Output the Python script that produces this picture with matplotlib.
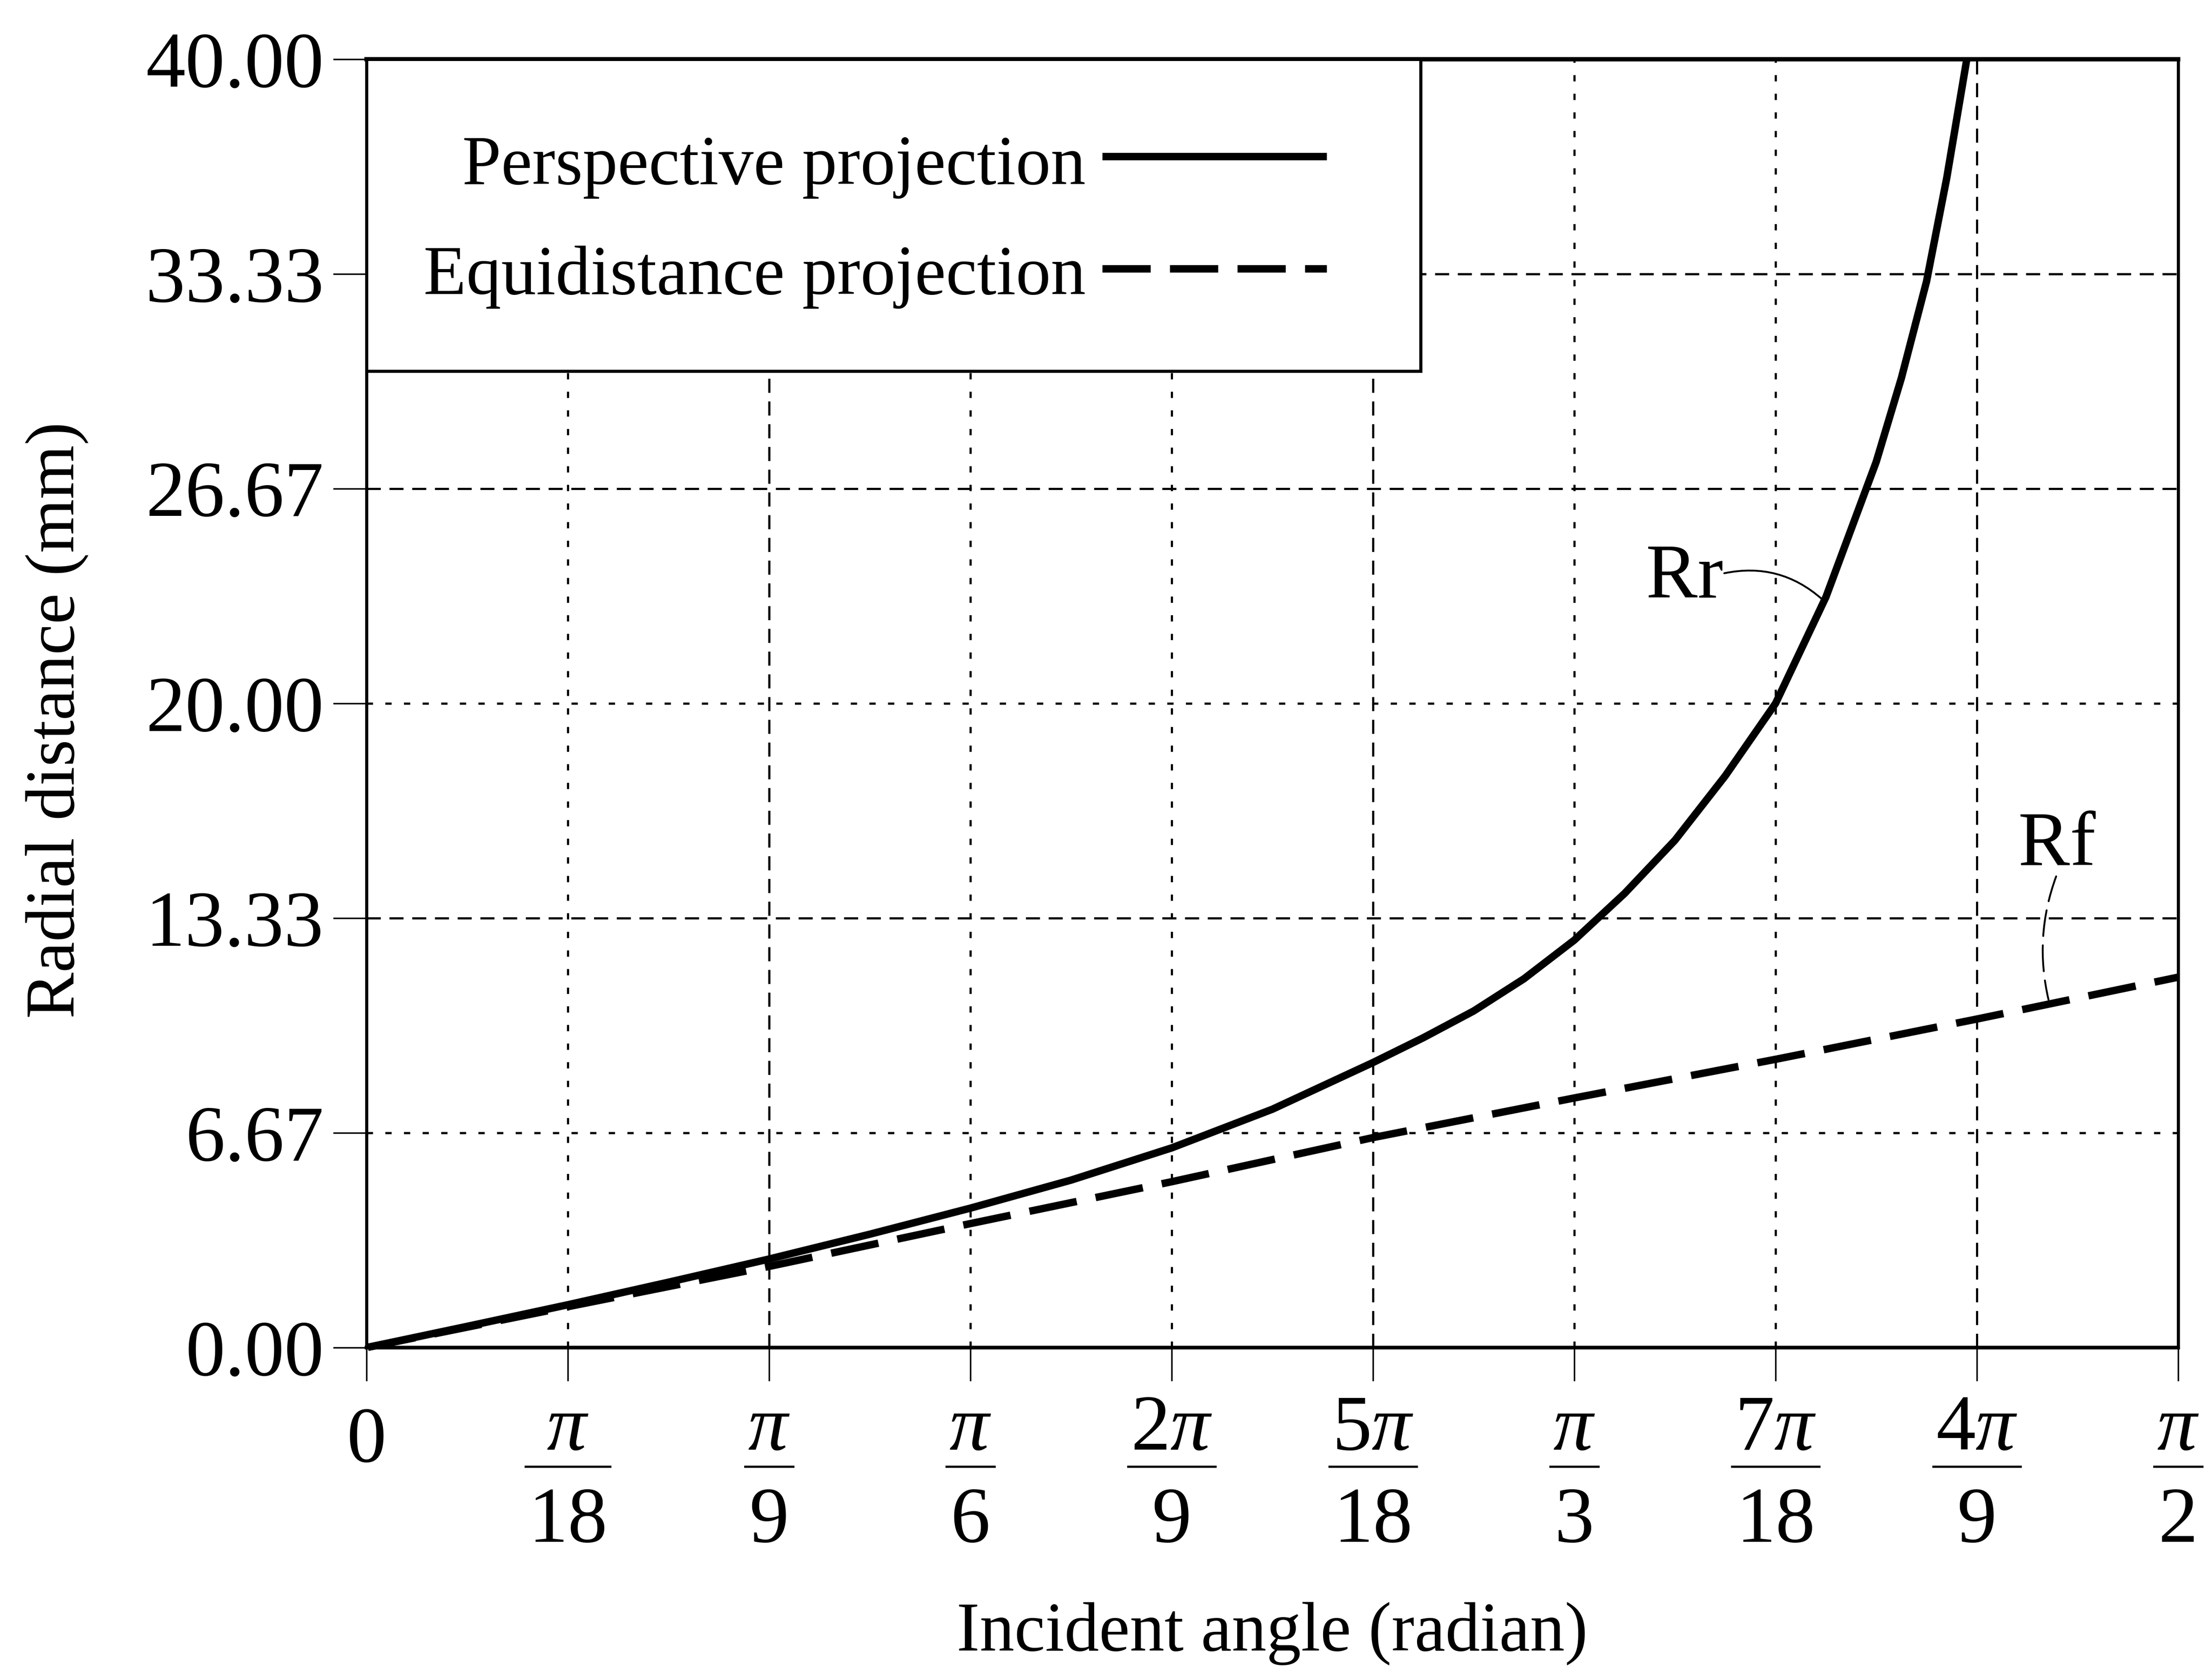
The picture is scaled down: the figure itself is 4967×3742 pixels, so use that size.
import numpy as np
import matplotlib
matplotlib.use('Agg')
import matplotlib.pyplot as plt
from matplotlib.patches import Rectangle
from matplotlib.transforms import blended_transform_factory

plt.rcParams['font.family'] = ['Liberation Serif', 'DejaVu Serif']
plt.rcParams['mathtext.fontset'] = 'custom'
plt.rcParams['mathtext.rm'] = 'Liberation Serif'
plt.rcParams['mathtext.it'] = 'Liberation Serif:italic'

# ---- data (angles in degrees, radial distance in mm) ----
rr_deg = [0, 5, 10, 15, 20, 25, 30, 35, 40, 45, 50, 52.5, 55, 57.5, 60, 62.5, 65, 67.5,
          70, 72.5, 75, 76.25, 77.5, 78.5, 79.5]
rr_mm = [0, 0.66, 1.33, 2.03, 2.75, 3.52, 4.33, 5.20, 6.20, 7.40, 8.85, 9.62, 10.45, 11.45,
         12.65, 14.1, 15.75, 17.75, 20.0, 23.3, 27.5, 30.1, 33.1, 36.3, 40.0]

rf_deg = [0, 10, 20, 30, 40, 50, 60, 70, 80, 90]
rf_mm = [0, 1.27, 2.52, 3.85, 5.15, 6.52, 7.75, 8.95, 10.2, 11.5]

xtick_deg = [0, 10, 20, 30, 40, 50, 60, 70, 80, 90]
xtick_num = ['0', r'$\pi$', r'$\pi$', r'$\pi$', r'$2\pi$', r'$5\pi$', r'$\pi$', r'$7\pi$', r'$4\pi$', r'$\pi$']
xtick_den = ['', '18', '9', '6', '9', '18', '3', '18', '9', '2']

ytick_vals = [0.00, 6.67, 13.33, 20.00, 26.67, 33.33, 40.00]
ytick_labels = ['0.00', '6.67', '13.33', '20.00', '26.67', '33.33', '40.00']

legend_labels = ['Perspective projection', 'Equidistance projection']

DASH = (6.5, 2.6)
CURVE_LW = 12


def end_on_dash_offset(line, ax, lw):
    # shift the dash pattern so the polyline finishes in the middle of a dash
    pts = ax.transData.transform(np.column_stack(line.get_data()))
    length = np.sum(np.hypot(*np.diff(pts, axis=0).T))
    scale = lw * 100 / 72.0
    dash_px, period = DASH[0] * scale, sum(DASH) * scale
    off_px = (dash_px / 2 - length) % period
    return off_px / scale


def main():
    fig = plt.figure(figsize=(49.67, 37.42), dpi=100)
    ax = fig.add_axes([0.1657, 0.1916, 0.8190, 0.7729])

    xr = np.deg2rad(xtick_deg)
    ax.set_xlim(0, np.pi / 2)
    ax.set_ylim(0, 40)

    # grid (scanned figure has a mix of dotted and short-dash lines)
    dotted = (0, (2.9, 5.7))
    dashed = (0, (6.5, 4.0))
    for i, x in enumerate(xr[1:-1], start=1):
        ls = dashed if xtick_deg[i] in (20, 50, 80) else dotted
        ax.axvline(x, color='black', lw=3.5, linestyle=ls, zorder=1)
    for y in ytick_vals[1:-1]:
        ls = dashed if y in (13.33, 26.67, 33.33) else dotted
        ax.axhline(y, color='black', lw=3.5, linestyle=ls, zorder=1)

    # curves
    ax.plot(np.deg2rad(rr_deg), rr_mm, color='black', lw=CURVE_LW, solid_capstyle='butt',
            solid_joinstyle='round', zorder=4)
    rf_line, = ax.plot(np.deg2rad(rf_deg), rf_mm, color='black', lw=CURVE_LW,
                       linestyle=(0, DASH), zorder=4, clip_on=False)
    rf_line.set_linestyle((end_on_dash_offset(rf_line, ax, CURVE_LW), DASH))

    # spines / ticks
    for side, lw in [('top', 7), ('bottom', 6), ('left', 5), ('right', 5)]:
        ax.spines[side].set_linewidth(lw)
    ax.set_xticks(xr)
    ax.set_xticklabels([''] * len(xr))
    ax.set_yticks(ytick_vals)
    ax.set_yticklabels(ytick_labels, fontsize=128)
    ax.tick_params(axis='both', direction='out', length=54, width=2.5, pad=15)

    # x tick labels as stacked fractions
    trans = blended_transform_factory(ax.transData, ax.transAxes)
    nums, dens = [], []
    for x, n, d in zip(xr, xtick_num, xtick_den):
        if d == '':
            ax.text(x, -0.0885, n, transform=trans, ha='center', va='baseline', fontsize=128)
            continue
        nums.append(ax.text(x, -0.0792, n, transform=trans, ha='center', va='baseline',
                            fontsize=128))
        dens.append(ax.text(x, -0.1508, d, transform=trans, ha='center', va='baseline',
                            fontsize=128))
    fig.canvas.draw()
    renderer = fig.canvas.get_renderer()
    px_per_rad = ax.bbox.width / (np.pi / 2)
    for x, tn, td in zip(xr[1:], nums, dens):
        w = max(tn.get_window_extent(renderer).width, td.get_window_extent(renderer).width)
        half = (w * 0.5 + 6) / px_per_rad
        ax.plot([x - half, x + half], [-0.0923, -0.0923], transform=trans, color='black',
                lw=3.5, clip_on=False)

    # axis labels
    ax.set_xlabel('Incident angle (radian)', fontsize=112, va='center')
    ax.xaxis.set_label_coords(0.5, -0.222)
    ax.set_ylabel('Radial distance (mm)', fontsize=112, va='center')
    ax.yaxis.set_label_coords(-0.171, 0.487)

    # legend box drawn by hand (text right-aligned, sample to the right)
    ax.add_patch(Rectangle((0, 0.758), 0.5819, 0.242, transform=ax.transAxes,
                           facecolor='white', edgecolor='black', lw=5, zorder=5, clip_on=False))
    ax.text(0.397, 0.9032, legend_labels[0], transform=ax.transAxes, ha='right',
            va='baseline', fontsize=113, zorder=6)
    ax.text(0.397, 0.8178, legend_labels[1], transform=ax.transAxes, ha='right',
            va='baseline', fontsize=113, zorder=6)
    ax.plot([0.406, 0.530], [0.9246, 0.9246], transform=ax.transAxes, color='black',
            lw=CURVE_LW, solid_capstyle='butt', zorder=6)
    ax.plot([0.406, 0.530], [0.8375, 0.8375], transform=ax.transAxes, color='black',
            lw=CURVE_LW, linestyle=(0, DASH), zorder=6)

    # curve labels with leaders
    ax.text(np.deg2rad(67.4), 23.3, 'Rr', ha='right', va='baseline', fontsize=125, zorder=6)
    ax.annotate('', xy=(np.deg2rad(72.3), 23.24), xytext=(np.deg2rad(67.45), 24.04),
                arrowprops=dict(arrowstyle='-', connectionstyle='arc3,rad=-0.25',
                                lw=3, color='black', shrinkA=0, shrinkB=0))
    ax.text(np.deg2rad(83.98), 14.98, 'Rf', ha='center', va='baseline', fontsize=125, zorder=6)
    ax.annotate('', xy=(np.deg2rad(83.56), 10.8), xytext=(np.deg2rad(83.94), 14.63),
                arrowprops=dict(arrowstyle='-', connectionstyle='arc3,rad=0.15',
                                lw=3, color='black', linestyle=(0, (14, 5)),
                                shrinkA=0, shrinkB=0))

    fig.savefig('out.png', dpi=100)
    plt.close(fig)


if __name__ == '__main__':
    main()
